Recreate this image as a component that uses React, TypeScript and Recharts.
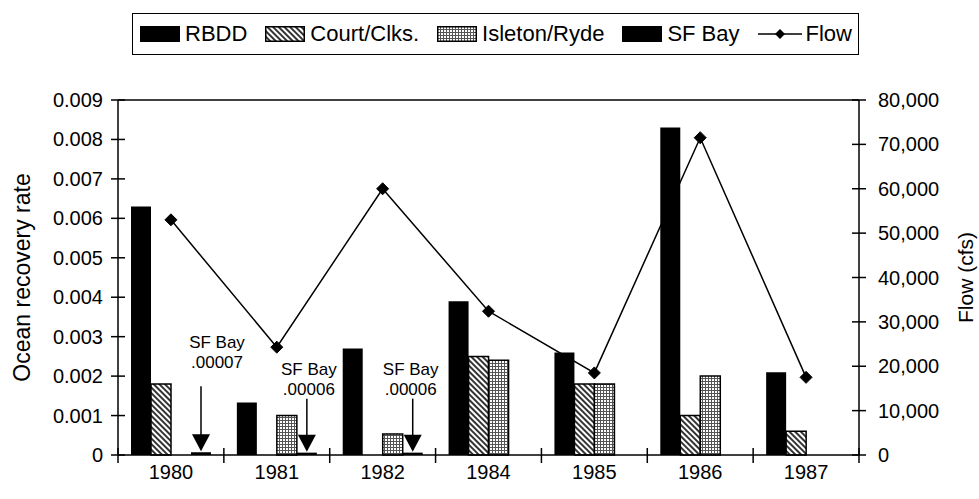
import React from 'react';
import { ComposedChart, Bar, Line, XAxis, YAxis, Legend, ReferenceLine } from 'recharts';

// ---- data ----
const years = ['1980', '1981', '1982', '1984', '1985', '1986', '1987'];
const rbdd = [0.0063, 0.00133, 0.0027, 0.0039, 0.0026, 0.0083, 0.0021];
const courtClks = [0.0018, 0, 0, 0.0025, 0.0018, 0.001, 0.0006];
const isletonRyde = [0, 0.001, 0.00053, 0.0024, 0.0018, 0.002, 0];
const sfBay = [0.00007, 0.00006, 0.00006, 0, 0, 0, 0];
const flow = [53000, 24300, 60000, 32400, 18500, 71500, 17500];
const sfBayNotes = ['.00007', '.00006', '.00006', '', '', '', ''];
const leftTicks = [0, 0.001, 0.002, 0.003, 0.004, 0.005, 0.006, 0.007, 0.008, 0.009];
const rightTicks = [0, 10000, 20000, 30000, 40000, 50000, 60000, 70000, 80000];
const legendNames = ['RBDD', 'Court/Clks.', 'Isleton/Ryde', 'SF Bay', 'Flow'];

const data = years.map((y, i) => ({
  year: y,
  rbdd: rbdd[i],
  court: courtClks[i],
  isleton: isletonRyde[i],
  sfbay: sfBay[i],
  flow: flow[i],
}));

// ---- layout constants ----
const W = 979;
const H = 499;
const LEFT_W = 118;
const RIGHT_W = 120;
const BAND = (W - LEFT_W - RIGHT_W) / years.length;
const FONT = "'Liberation Sans', Arial, sans-serif";
const FS = 20;
// annotation offsets (text dx, first text baseline above bar top, arrow start above bar top)
const noteLayout = [
  { dx: 16, textTop: 103, arrowTop: 65 },
  { dx: 2, textTop: 77, arrowTop: 53 },
  { dx: -2, textTop: 77, arrowTop: 53 },
];

const LeftTick = (props: any) => {
  const { x, y, payload } = props;
  return (
    <g>
      <line x1={x + 8} x2={x + 22} y1={y} y2={y} stroke="#000" strokeWidth={1.5} />
      <text x={x} y={y} dy="0.35em" textAnchor="end" fontFamily={FONT} fontSize={FS} fill="#000">
        {payload.value === 0 ? '0' : payload.value.toFixed(3)}
      </text>
    </g>
  );
};

const RightTick = (props: any) => {
  const { x, y, payload } = props;
  return (
    <g>
      <line x1={x - 26} x2={x - 12} y1={y} y2={y} stroke="#000" strokeWidth={1.5} />
      <text x={x} y={y} dy="0.35em" textAnchor="start" fontFamily={FONT} fontSize={FS} fill="#000">
        {payload.value.toLocaleString('en-US')}
      </text>
    </g>
  );
};

const XTick = (props: any) => {
  const { x, y, payload, index } = props;
  return (
    <g>
      {index === 0 && (
        <line x1={x - BAND / 2} x2={x - BAND / 2} y1={y - 17} y2={y - 2} stroke="#000" strokeWidth={1.5} />
      )}
      <line x1={x + BAND / 2} x2={x + BAND / 2} y1={y - 17} y2={y - 2} stroke="#000" strokeWidth={1.5} />
      <text x={x} y={y} dy="0.71em" textAnchor="middle" fontFamily={FONT} fontSize={FS} fill="#000">
        {payload.value}
      </text>
    </g>
  );
};

const Diamond = (props: any) => {
  const { cx, cy } = props;
  if (cx == null || cy == null) return null;
  const r = 6;
  return (
    <path d={`M${cx},${cy - r}L${cx + r},${cy}L${cx},${cy + r}L${cx - r},${cy}Z`} fill="#000" stroke="#000" />
  );
};

const SfNote = (props: any) => {
  const { x, y, width, index } = props;
  const note = sfBayNotes[index];
  if (!note || !noteLayout[index]) return null;
  const L = noteLayout[index];
  const cx = x + width / 2;
  const tipY = y - 1;
  return (
    <g>
      <line x1={cx} x2={cx} y1={tipY - L.arrowTop} y2={tipY - 14} stroke="#000" strokeWidth={1.5} />
      <path d={`M${cx - 9},${tipY - 17}L${cx + 9},${tipY - 17}L${cx},${tipY}Z`} fill="#000" />
      <text x={cx + L.dx} y={tipY - L.textTop} textAnchor="middle" fontFamily={FONT} fontSize={17} fill="#000">
        SF Bay
      </text>
      <text x={cx + L.dx} y={tipY - L.textTop + 20} textAnchor="middle" fontFamily={FONT} fontSize={17} fill="#000">
        {note}
      </text>
    </g>
  );
};

const Swatch = ({ kind }: { kind: number }) => {
  const id = `lg-pat-${kind}`;
  if (kind === 4) {
    return (
      <svg width={44} height={16} style={{ marginRight: 4 }}>
        <line x1={0} x2={44} y1={8} y2={8} stroke="#000" strokeWidth={1.5} />
        <path d="M22,3L27,8L22,13L17,8Z" fill="#000" />
      </svg>
    );
  }
  let fill = '#000';
  let defs = null as any;
  if (kind === 1) {
    fill = `url(#${id})`;
    defs = (
      <pattern id={id} width={4} height={4} patternUnits="userSpaceOnUse" patternTransform="rotate(-45)">
        <rect width={4} height={4} fill="#fff" />
        <line x1={1} x2={1} y1={0} y2={4} stroke="#000" strokeWidth={1.6} />
      </pattern>
    );
  } else if (kind === 2) {
    fill = `url(#${id})`;
    defs = (
      <pattern id={id} width={3} height={3} patternUnits="userSpaceOnUse">
        <rect width={3} height={3} fill="#fff" />
        <rect width={3} height={1} fill="#555" />
        <rect width={1} height={3} fill="#555" />
      </pattern>
    );
  }
  return (
    <svg width={40} height={16} style={{ marginRight: 5 }}>
      <defs>{defs}</defs>
      <rect x={0.75} y={0.75} width={38.5} height={14.5} fill={fill} stroke="#000" strokeWidth={1.5} />
    </svg>
  );
};

const LegendBox = () => (
  <div
    style={{
      border: '1.5px solid #000',
      boxSizing: 'border-box',
      height: 42,
      padding: '0 6px 0 7px',
      display: 'flex',
      alignItems: 'center',
      justifyContent: 'space-between',
      fontFamily: FONT,
      fontSize: 22,
      color: '#000',
      background: '#fff',
    }}
  >
    {legendNames.map((n) => (
      <div key={n} style={{ display: 'flex', alignItems: 'center' }}>
        <Swatch kind={legendNames.indexOf(n)} />
        <span>{n}</span>
      </div>
    ))}
  </div>
);

export default function App() {
  return (
    <div style={{ width: W, height: H, background: '#fff', position: 'relative' }}>
      <style>{'body{margin:0;background:#fff}'}</style>
      <ComposedChart
        width={W}
        height={H}
        data={data}
        margin={{ top: 100, right: 0, bottom: 14, left: 0 }}
        barCategoryGap={13}
        barGap={0}
      >
        <defs>
          <pattern id="courtPat" width={4} height={4} patternUnits="userSpaceOnUse" patternTransform="rotate(-45)">
            <rect width={4} height={4} fill="#fff" />
            <line x1={1} x2={1} y1={0} y2={4} stroke="#000" strokeWidth={1.6} />
          </pattern>
          <pattern id="isletonPat" width={3} height={3} patternUnits="userSpaceOnUse">
            <rect width={3} height={3} fill="#fff" />
            <rect width={3} height={1} fill="#555" />
            <rect width={1} height={3} fill="#555" />
          </pattern>
        </defs>
        <XAxis
          dataKey="year"
          xAxisId="x"
          height={30}
          tickSize={7}
          tickMargin={3}
          tickLine={false}
          axisLine={{ stroke: '#000', strokeWidth: 1.5 }}
          tick={<XTick />}
          interval={0}
        />
        <YAxis
          yAxisId="left"
          orientation="left"
          width={LEFT_W}
          domain={[0, 0.009]}
          ticks={leftTicks}
          tickSize={7}
          tickMargin={8}
          tickLine={false}
          axisLine={{ stroke: '#000', strokeWidth: 1.5 }}
          tick={<LeftTick />}
          interval={0}
          label={(p: any) => {
            const vb = p.viewBox || {};
            const cy = (vb.y || 0) + (vb.height || 0) / 2;
            return (
              <text
                x={22}
                y={cy}
                transform={`rotate(-90, 22, ${cy})`}
                textAnchor="middle"
                dy="0.35em"
                fontFamily={FONT}
                fontSize={23}
                fill="#000"
              >
                Ocean recovery rate
              </text>
            );
          }}
        />
        <YAxis
          yAxisId="right"
          orientation="right"
          width={RIGHT_W}
          domain={[0, 80000]}
          ticks={rightTicks}
          tickSize={7}
          tickMargin={12}
          tickLine={false}
          axisLine={{ stroke: '#000', strokeWidth: 1.5 }}
          tick={<RightTick />}
          interval={0}
          label={(p: any) => {
            const vb = p.viewBox || {};
            const cy = (vb.y || 0) + (vb.height || 0) / 2;
            const lx = W - 13;
            return (
              <text
                x={lx}
                y={cy}
                transform={`rotate(-90, ${lx}, ${cy})`}
                textAnchor="middle"
                dy="0.35em"
                fontFamily={FONT}
                fontSize={21}
                fill="#000"
              >
                Flow (cfs)
              </text>
            );
          }}
        />
        <ReferenceLine yAxisId="left" xAxisId="x" y={0.009} stroke="#000" strokeWidth={1.5} />
        <Legend
          layout="horizontal"
          verticalAlign="middle"
          align="center"
          content={() => <LegendBox />}
          wrapperStyle={{ position: 'absolute', top: 13, left: 132, width: 727, height: 42 }}
        />
        <Bar dataKey="rbdd" name="RBDD" yAxisId="left" xAxisId="x" fill="#000" isAnimationActive={false} />
        <Bar
          dataKey="court"
          name="Court/Clks."
          yAxisId="left"
          xAxisId="x"
          fill="url(#courtPat)"
          stroke="#000"
          strokeWidth={1.5}
          isAnimationActive={false}
        />
        <Bar
          dataKey="isleton"
          name="Isleton/Ryde"
          yAxisId="left"
          xAxisId="x"
          fill="url(#isletonPat)"
          stroke="#000"
          strokeWidth={1.5}
          isAnimationActive={false}
        />
        <Bar
          dataKey="sfbay"
          name="SF Bay"
          yAxisId="left"
          xAxisId="x"
          fill="#000"
          isAnimationActive={false}
          label={(p: any) => <SfNote {...p} />}
        />
        <Line
          dataKey="flow"
          name="Flow"
          yAxisId="right"
          xAxisId="x"
          stroke="#000"
          strokeWidth={1.5}
          dot={<Diamond />}
          activeDot={false}
          isAnimationActive={false}
        />
      </ComposedChart>
    </div>
  );
}
